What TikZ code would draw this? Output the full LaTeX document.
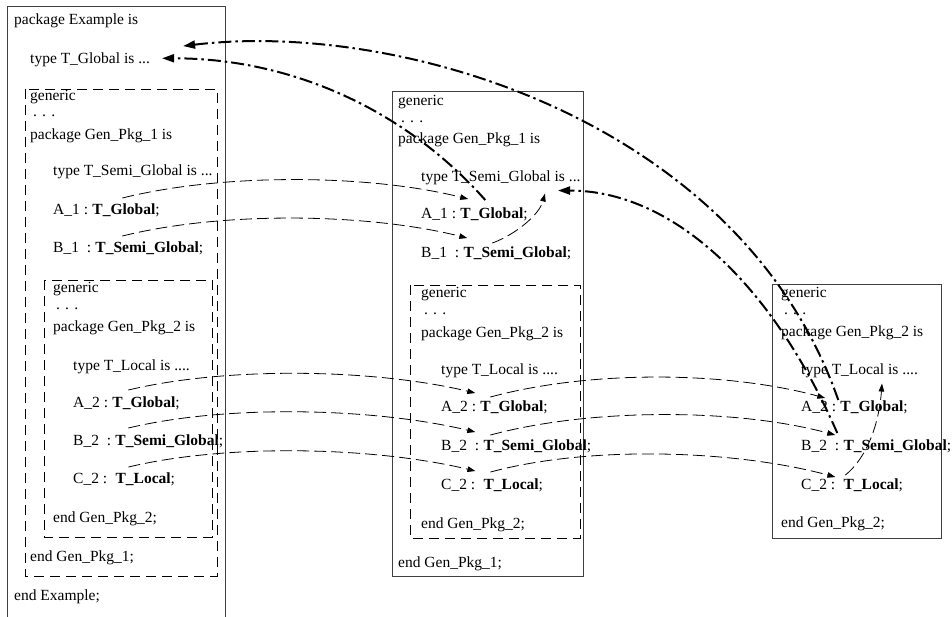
\documentclass[tikz,border=0pt]{standalone}
\usepackage{fontspec}
\setmainfont{Liberation Serif}
\usetikzlibrary{arrows.meta,positioning}

\begin{document}
\begin{tikzpicture}[x=1pt,y=-1pt,>={Triangle[length=8pt,width=5.5pt]},
  font=\fontsize{15.5}{18}\selectfont,
  txt/.style={anchor=base west,inner sep=0pt},
  typ/.style={inner sep=0pt},
  pkgbox/.style={draw=black!75,line width=0.9pt},
  genbox/.style={draw,line width=0.8pt,dash pattern=on 10pt off 6pt},
  uses/.style={->,line width=0.8pt,dash pattern=on 12pt off 5pt},
  vis/.style={-{Triangle[length=12pt,width=8pt]},line width=2pt,dash pattern=on 13pt off 4pt on 2.5pt off 4pt}]
\useasboundingbox (0,0) rectangle (952,617);
\draw[pkgbox] (7,617) -- (7,6) -- (225,6) -- (225,617);
\node[txt] (lPkg) at (14,25) {package Example is};
\node[txt] (lTG) at (30,64) {type T\_Global is ...};
\draw[genbox] (25,89) rectangle (217,576);
\node[txt] (lGen1) at (30,101) {generic};
\node[txt] (lDots1) at (33,117) {. . .};
\node[txt] (lPkg1) at (30,140) {package Gen\_Pkg\_1 is};
\node[txt] (lSG) at (53,176) {type T\_Semi\_Global is ...};
\node[txt] (lA1) at (53,215) {A\_1 :};
\node[typ,base right=4pt of lA1] (lA1t) {\textbf{T\_Global};};
\node[txt] (lB1) at (53,253) {B\_1\ \ :};
\node[typ,base right=4pt of lB1] (lB1t) {\textbf{T\_Semi\_Global};};
\draw[genbox] (44,280) rectangle (212,537);
\node[txt] (lGen2) at (53,293) {generic};
\node[txt] (lDots2) at (56,309) {. . .};
\node[txt] (lPkg2) at (53,331) {package Gen\_Pkg\_2 is};
\node[txt] (lTL) at (73,370) {type T\_Local is ....};
\node[txt] (lA2) at (73,407) {A\_2 :};
\node[typ,base right=4pt of lA2] (lA2t) {\textbf{T\_Global};};
\node[txt] (lB2) at (73,445) {B\_2\ \ :};
\node[typ,base right=4pt of lB2] (lB2t) {\textbf{T\_Semi\_Global};};
\node[txt] (lC2) at (73,483) {C\_2 :};
\node[typ,base right=8pt of lC2] (lC2t) {\textbf{T\_Local};};
\node[txt] (lEnd2) at (53,522) {end Gen\_Pkg\_2;};
\node[txt] (lEnd1) at (30,561) {end Gen\_Pkg\_1;};
\node[txt] (lEnd) at (14,600) {end Example;};

\draw[pkgbox] (392,91) rectangle (583,576);
\node[txt] (mGen1) at (398,106) {generic};
\node[txt] (mDots1) at (401,123) {. . .};
\node[txt] (mPkg1) at (398,144) {package Gen\_Pkg\_1 is};
\node[txt] (mSG) at (421,182) {type T\_Semi\_Global is ...};
\node[txt] (mA1) at (421,219) {A\_1 :};
\node[typ,base right=4pt of mA1] (mA1t) {\textbf{T\_Global};};
\node[txt] (mB1) at (421,258) {B\_1\ \ :};
\node[typ,base right=4pt of mB1] (mB1t) {\textbf{T\_Semi\_Global};};
\draw[genbox] (410,285) rectangle (580,538);
\node[txt] (mGen2) at (421,298) {generic};
\node[txt] (mDots2) at (424,315) {. . .};
\node[txt] (mPkg2) at (421,337) {package Gen\_Pkg\_2 is};
\node[txt] (mTL) at (441,374) {type T\_Local is ....};
\node[txt] (mA2) at (441,411) {A\_2 :};
\node[typ,base right=4pt of mA2] (mA2t) {\textbf{T\_Global};};
\node[txt] (mB2) at (441,450) {B\_2\ \ :};
\node[typ,base right=4pt of mB2] (mB2t) {\textbf{T\_Semi\_Global};};
\node[txt] (mC2) at (441,489) {C\_2 :};
\node[typ,base right=8pt of mC2] (mC2t) {\textbf{T\_Local};};
\node[txt] (mEnd2) at (421,528) {end Gen\_Pkg\_2;};
\node[txt] (mEnd1) at (398,567) {end Gen\_Pkg\_1;};

\draw[pkgbox] (772,284) rectangle (941,538);
\node[txt] (rGen) at (781,298) {generic};
\node[txt] (rDots) at (784,315) {. . .};
\node[txt] (rPkg) at (781,336) {package Gen\_Pkg\_2 is};
\node[txt] (rTL) at (801,374) {type T\_Local is ....};
\node[txt] (rA2) at (801,411) {A\_2 :};
\node[typ,base right=4pt of rA2] (rA2t) {\textbf{T\_Global};};
\node[txt] (rB2) at (801,450) {B\_2\ \ :};
\node[typ,base right=4pt of rB2] (rB2t) {\textbf{T\_Semi\_Global};};
\node[txt] (rC2) at (801,489) {C\_2 :};
\node[typ,base right=8pt of rC2] (rC2t) {\textbf{T\_Local};};
\node[txt] (rEnd) at (781,527) {end Gen\_Pkg\_2;};

\draw[uses] ([shift={(30,-6)}]lA1t.north west) .. controls +(100,-25) and +(-100,-25) .. ([shift={(8,-9)}]mA1t.north west);
\draw[uses] ([shift={(27,-6)}]lB1t.north west) .. controls +(100,-25) and +(-100,-25) .. ([shift={(4,-9)}]mB1t.north west);
\draw[uses] ([shift={(29,-4)}]mB1t.north west) .. controls +(22,-8) and +(-6,22) .. ([shift={(124,8)}]mSG.south west);
\draw[uses] ([shift={(16,-6)}]lA2t.north west) .. controls +(100,-24) and +(-100,-24) .. ([shift={(-5,-7)}]mA2t.north west);
\draw[uses] ([shift={(13,-6)}]lB2t.north west) .. controls +(100,-24) and +(-100,-24) .. ([shift={(-8,-7)}]mB2t.north west);
\draw[uses] ([shift={(13,-5)}]lC2t.north west) .. controls +(100,-24) and +(-100,-24) .. ([shift={(-8,-7)}]mC2t.north west);
\draw[uses] ([shift={(10,-3)}]mA2t.north west) .. controls +(100,-27) and +(-100,-27) .. ([shift={(-15,-2)}]rA2t.north west);
\draw[uses] ([shift={(7,-4)}]mB2t.north west) .. controls +(100,-27) and +(-100,-27) .. ([shift={(-8,-4)}]rB2t.north west);
\draw[uses] ([shift={(7,-6)}]mC2t.north west) .. controls +(100,-27) and +(-100,-27) .. ([shift={(-8,-1)}]rC2t.north west);
\draw[uses] ([shift={(2,-3)}]rC2t.north west) .. controls +(22,-18) and +(-3,40) .. ([shift={(81,6)}]rTL.south west);

\draw[vis] ([shift={(25,-8)}]mA1t.north west) .. controls +(-80,-90) and +(130,0) .. ([shift={(12,-2)}]lTG.east);
\draw[vis] ([shift={(-2,0)}]rA2t.north west) .. controls +(-98,-280) and +(217,-26) .. ([shift={(33,-7)}]lTG.north east);
\draw[vis] ([shift={(-6,-6)}]rB2t.north west) .. controls +(-67,-153) and +(112,0) .. ([shift={(137,5)}]mSG.south west);
\end{tikzpicture}
\end{document}
